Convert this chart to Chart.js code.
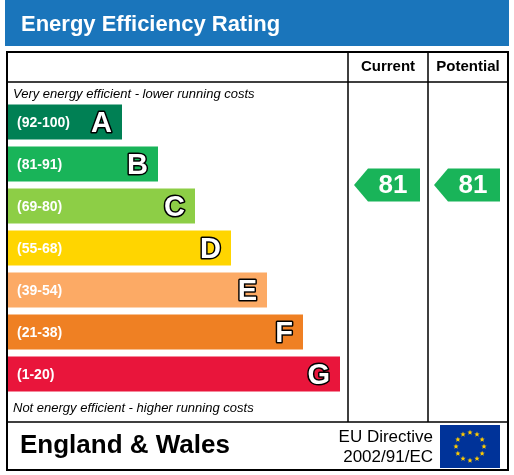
<!DOCTYPE html>
<html>
<head>
<meta charset="utf-8">
<script src="https://cdn.jsdelivr.net/npm/chart.js@4"></script>
<style>
  html, body { margin: 0; padding: 0; background: #fff; }
  canvas { display: block; }
</style>
</head>
<body>
<canvas id="epc" width="514" height="475"></canvas>
<script>
// Bands, ranges and bar lengths (in scale units, chart width = 340)
const bands = ['A', 'B', 'C', 'D', 'E', 'F', 'G'];
const ranges = ['(92-100)', '(81-91)', '(69-80)', '(55-68)', '(39-54)', '(21-38)', '(1-20)'];
const barLengths = [114, 150, 187, 223, 259, 295, 332];
const bandColors = ['#008054', '#19b459', '#8dce46', '#ffd500', '#fcaa65', '#ef8023', '#e9153b'];
const currentRating = 81;
const potentialRating = 81;

const FONT = '"Liberation Sans", Arial, sans-serif';

// 81 sits on the B/C boundary in the reference
function ratingY(yScale) {
  return (yScale.getPixelForValue(1) + yScale.getPixelForValue(2)) / 2;
}

function drawArrow(ctx, x, y, w, h, value) {
  ctx.fillStyle = '#19b459';
  ctx.beginPath();
  ctx.moveTo(x, y);
  ctx.lineTo(x + 14, y - h / 2);
  ctx.lineTo(x + w, y - h / 2);
  ctx.lineTo(x + w, y + h / 2);
  ctx.lineTo(x + 14, y + h / 2);
  ctx.closePath();
  ctx.fill();
  ctx.fillStyle = '#fff';
  ctx.font = 'bold 26px ' + FONT;
  ctx.textAlign = 'center';
  ctx.textBaseline = 'middle';
  ctx.fillText(String(value), x + w / 2 + 6, y + 1);
}

const epcPlugin = {
  id: 'epcFrame',
  beforeDraw(chart) {
    const ctx = chart.ctx;
    ctx.save();
    ctx.fillStyle = '#fff';
    ctx.fillRect(0, 0, chart.width, chart.height);
    ctx.fillStyle = '#1a75bb';
    ctx.fillRect(5, 0, 504, 46);
    ctx.fillStyle = '#fff';
    ctx.font = 'bold 22px ' + FONT;
    ctx.textBaseline = 'middle';
    ctx.textAlign = 'left';
    ctx.fillText('Energy Efficiency Rating', 21, 25);
    ctx.restore();
  },
  afterDraw(chart) {
    const ctx = chart.ctx;
    const yScale = chart.scales.y;
    const xScale = chart.scales.x;
    ctx.save();
    ctx.strokeStyle = '#000';
    ctx.lineWidth = 2;
    ctx.strokeRect(7, 52, 501, 418);
    ctx.lineWidth = 1.5;
    ctx.beginPath();
    ctx.moveTo(348, 52); ctx.lineTo(348, 422);
    ctx.moveTo(428, 52); ctx.lineTo(428, 422);
    ctx.moveTo(7, 82); ctx.lineTo(508, 82);
    ctx.moveTo(7, 422); ctx.lineTo(508, 422);
    ctx.stroke();

    ctx.fillStyle = '#000';
    ctx.font = 'bold 15px ' + FONT;
    ctx.textAlign = 'center';
    ctx.textBaseline = 'middle';
    ctx.fillText('Current', 388, 67);
    ctx.fillText('Potential', 468, 67);

    ctx.font = 'italic 13px ' + FONT;
    ctx.textAlign = 'left';
    ctx.fillText('Very energy efficient - lower running costs', 13, 94);
    ctx.fillText('Not energy efficient - higher running costs', 13, 408);

    bands.forEach((b, i) => {
      const y = yScale.getPixelForValue(i);
      const xEnd = xScale.getPixelForValue(barLengths[i]);
      ctx.font = 'bold 14px ' + FONT;
      ctx.fillStyle = '#fff';
      ctx.textAlign = 'left';
      ctx.fillText(ranges[i], 17, y + 1);
      ctx.font = 'bold 29px ' + FONT;
      ctx.textAlign = 'right';
      ctx.lineWidth = 3;
      ctx.strokeStyle = '#000';
      ctx.lineJoin = 'round';
      ctx.strokeText(b, xEnd - 10, y + 2);
      ctx.fillStyle = '#fff';
      ctx.fillText(b, xEnd - 10, y + 2);
    });

    const ay = ratingY(yScale);
    drawArrow(ctx, 354, ay, 66, 33, currentRating);
    drawArrow(ctx, 434, ay, 66, 33, potentialRating);

    ctx.fillStyle = '#000';
    ctx.font = 'bold 26px ' + FONT;
    ctx.textAlign = 'left';
    ctx.fillText('England & Wales', 20, 446);
    ctx.font = '17px ' + FONT;
    ctx.textAlign = 'right';
    ctx.fillText('EU Directive', 433, 437);
    ctx.fillText('2002/91/EC', 433, 457);

    // EU flag
    ctx.fillStyle = '#003399';
    ctx.fillRect(440, 425, 60, 43);
    ctx.fillStyle = '#ffcc00';
    for (let k = 0; k < 12; k++) {
      const a = k * Math.PI / 6;
      const sx = 470 + 14 * Math.cos(a), sy = 446.5 + 14 * Math.sin(a);
      ctx.beginPath();
      for (let p = 0; p < 10; p++) {
        const r = p % 2 ? 1.2 : 2.8;
        const pa = -Math.PI / 2 + p * Math.PI / 5;
        ctx.lineTo(sx + r * Math.cos(pa), sy + r * Math.sin(pa));
      }
      ctx.closePath();
      ctx.fill();
    }
    ctx.restore();
  }
};

new Chart(document.getElementById('epc'), {
  type: 'bar',
  data: {
    labels: bands,
    datasets: [{
      data: barLengths,
      backgroundColor: bandColors,
      borderWidth: 0,
      barPercentage: 0.83,
      categoryPercentage: 1,
    }],
  },
  options: {
    indexAxis: 'y',
    responsive: false,
    animation: false,
    layout: { padding: { left: 8, right: 166, top: 101, bottom: 80 } },
    scales: {
      x: { display: false, min: 0, max: 340 },
      y: { display: false },
    },
    plugins: { legend: { display: false }, tooltip: { enabled: false } },
  },
  plugins: [epcPlugin],
});
</script>
</body>
</html>
